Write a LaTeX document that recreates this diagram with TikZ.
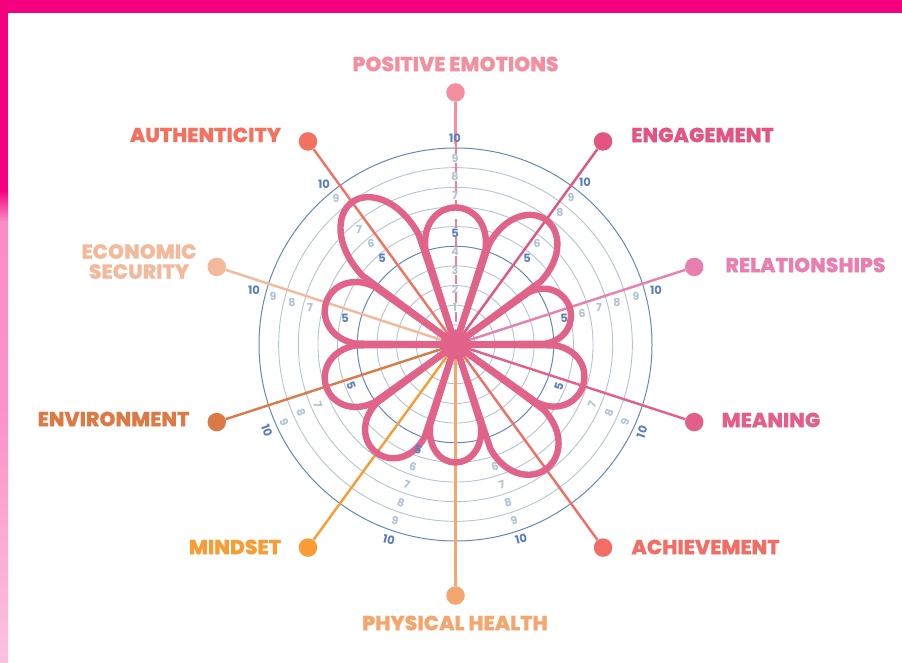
\documentclass[tikz,border=0pt]{standalone}
\usepackage{fontspec}
\setmainfont{Poppins}
\newfontfamily\lab[FakeBold=0.5]{Poppins ExtraBold}
\newfontfamily\numf{Poppins Bold}
\definecolor{hot}{HTML}{F5007F}
\definecolor{petal}{HTML}{E2638A}
\definecolor{ringa}{HTML}{B4C4D6}
\definecolor{ringb}{HTML}{6488BF}
\definecolor{numa}{HTML}{B0C2D6}
\definecolor{numb}{HTML}{5A7EBA}
\definecolor{cPos}{HTML}{F48FA0}
\definecolor{cDash}{HTML}{EE7F95}
\definecolor{cEng}{HTML}{E35480}
\definecolor{cRel}{HTML}{E87FAE}
\definecolor{cMea}{HTML}{E35F8A}
\definecolor{cAch}{HTML}{F26D64}
\definecolor{cPhy}{HTML}{F5A56E}
\definecolor{cMin}{HTML}{F89C35}
\definecolor{cEnv}{HTML}{DC7A45}
\definecolor{cEco}{HTML}{F4B99A}
\definecolor{cAut}{HTML}{F4705F}
\tikzset{
  x=1pt,y=1pt,
  ringthin/.style={draw=ringa,line width=0.9pt},
  ringbold/.style={draw=ringb,line width=1pt},
  spoke/.style={line width=2.4pt},
  dotnode/.style={circle,inner sep=0pt,minimum size=18.5pt,fill=#1},
  title/.style={font=\lab\fontsize{20.4}{21}\selectfont,inner sep=0pt,align=center},
  numlight/.style={font=\numf\fontsize{11}{11}\selectfont,text=numa,inner sep=0pt},
  numdark/.style={font=\numf\fontsize{11.5}{11}\selectfont,text=numb,inner sep=0pt},
  petalline/.style={draw=petal,line width=6.4pt,line join=round}
}
\newcommand{\petal}[3]{% axis, L, r0
  \pgfmathsetmacro{\rz}{#3}
  \pgfmathsetmacro{\lz}{#2}
  \pgfmathsetmacro{\ca}{(\lz-\rz*cos(17.5))*0.62}
  \pgfmathsetmacro{\cb}{\rz*sin(17.5)*0.58}
  \draw[petalline] (C) -- ++(#1-17.5:\rz)
    .. controls ++(#1-7:\ca) and ($(C)+(#1:\lz)+(#1-90:\cb)$) .. ($(C)+(#1:\lz)$)
    .. controls ($(C)+(#1:\lz)+(#1+90:\cb)$) and ($(C)+(#1+17.5:\rz)+(#1+7:\ca)$) .. ($(C)+(#1+17.5:\rz)$) -- cycle;
}
\usetikzlibrary{calc}
\begin{document}
\begin{tikzpicture}
\useasboundingbox (0,0) rectangle (902,662);
\fill[white] (0,0) rectangle (902,662);
% frame
\fill[hot] (0,649) rectangle (902,662);
\fill[hot] (0,472) rectangle (8,662);
\shade[top color=hot,bottom color=hot!45!white] (0,440) rectangle (8,472);
\shade[top color=hot!45!white,bottom color=hot!42!white] (0,240) rectangle (8,440);
\shade[top color=hot!42!white,bottom color=hot!24!white] (0,0) rectangle (8,240);
\coordinate (C) at (455.5,317.5);
% rings
\foreach \k in {1,2,3,4,6,7,8,9}{\draw[ringthin] (C) circle ({\k*19.65});}
\foreach \k in {5,10}{\draw[ringbold] (C) circle ({\k*19.65});}
% dots
\node[dotnode=cPos] (dPos) at ($(C)+(90:252)$) {};
\node[dotnode=cEng] (dEng) at ($(C)+(54:251)$) {};
\node[dotnode=cRel] (dRel) at ($(C)+(18:251)$) {};
\node[dotnode=cMea] (dMea) at ($(C)+(-18:251)$) {};
\node[dotnode=cAch] (dAch) at ($(C)+(-54:251)$) {};
\node[dotnode=cPhy] (dPhy) at ($(C)+(-90:251)$) {};
\node[dotnode=cMin] (dMin) at ($(C)+(-126:251)$) {};
\node[dotnode=cEnv] (dEnv) at ($(C)+(198:251)$) {};
\node[dotnode=cEco] (dEco) at ($(C)+(162:251)$) {};
\node[dotnode=cAut] (dAut) at ($(C)+(126:251)$) {};
% spokes
\coordinate (rim) at ($(C)+(90:200)$);
\draw[line width=2pt,cDash,dash pattern=on 9.7pt off 9pt,dash phase=14.75pt] (C) -- (rim);
\draw[spoke,cPos] (rim) -- (dPos);
\foreach \n in {Eng,Rel,Mea,Ach,Phy,Min,Env,Eco,Aut}{\draw[spoke,c\n] (C) -- (d\n);}
% petals
\petal{90}{137}{100}
\petal{54}{154}{106}
\petal{18}{120}{90}
\petal{-18}{134}{100}
\petal{-54}{154}{110}
\petal{-90}{118}{84}
\petal{-126}{134}{98}
\petal{198}{136}{100}
\petal{162}{136}{100}
\petal{126}{176}{116}
\fill[petal] (C) circle (15);
% numbers
\foreach \t/\x/\y/\r in {9/455/158/0,8/455/176/0,7/455/195/0,4/455/252/0,3/455/270/0,2/455/289/0,1/455/307/0,
 9/336/198/0,7/359/229/0,6/371/243/0,
 9/571/197/0,8/560/212/0,6/537/243/0,
 9/636/296/0,8/617/302/0,7/599/307/0,6/582/313/0,
 9/273/296/0,8/292/302/0,7/310/307/0,
 9/284/422/-70,8/301/412/-70,7/318/405/-70,
 9/625/422/70,8/609/413/70,7/592/404/70,
 9/395/521/-18,8/401/503/-18,7/407/485/-18,6/413/467/-18,
 9/514/521/18,8/508/503/18,7/502/485/18,6/495/467/18}
 {\node[numlight,rotate=\r] (n\x x\y) at (\x,662-\y) {\t};}
\foreach \t/\x/\y/\r in {10/455/138/0,5/455/233/0,10/324/184/0,5/382/258/0,10/585/182/0,5/527/258/0,
 10/656/290/0,5/564/318/0,10/254/290/0,5/345/318/0,10/267/431/-70,5/351/386/-70,
 10/642/432/70,5/559/387/70,10/389/540/-14,5/418/450/-18,10/521/539/14}
 {\node[numdark,rotate=\r] (m\x x\y) at (\x,662-\y) {\t};}
% titles
\node[title,text=cPos] (tPos) at (455.5,662-64) {POSITIVE EMOTIONS};
\node[title,text=cAut] (tAut) at (205.5,662-135) {AUTHENTICITY};
\node[title,text=cEng] (tEng) at (702.5,662-135) {ENGAGEMENT};
\node[title,text=cRel] (tRel) at (805.5,662-265) {RELATIONSHIPS};
\node[title,text=cEco] (tEco) at (139,662-261.5) {ECONOMIC\\[-1pt]SECURITY};
\node[title,text=cEnv] (tEnv) at (113.5,662-419) {ENVIRONMENT};
\node[title,text=cMea] (tMea) at (771,662-420) {MEANING};
\node[title,text=cMin] (tMin) at (235,662-547) {MINDSET};
\node[title,text=cAch] (tAch) at (705.5,662-547) {ACHIEVEMENT};
\node[title,text=cPhy] (tPhy) at (455,662-623) {PHYSICAL HEALTH};
\end{tikzpicture}
\end{document}
